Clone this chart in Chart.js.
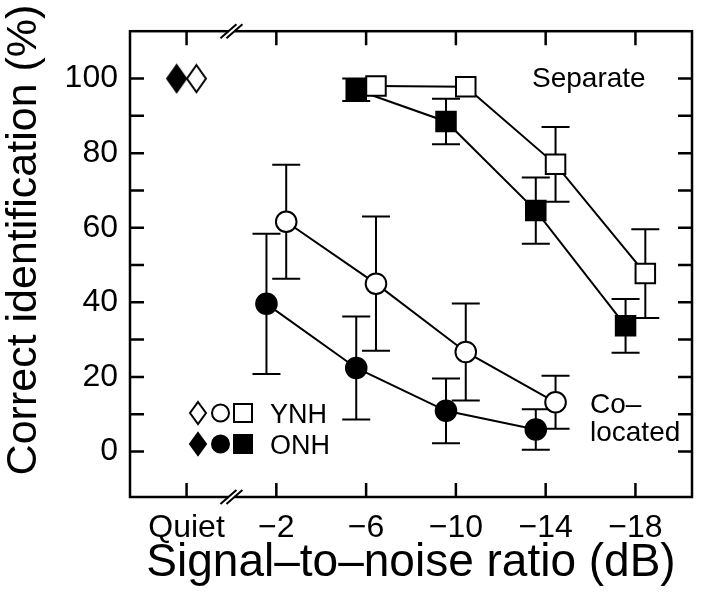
<!DOCTYPE html>
<html>
<head>
<meta charset="utf-8">
<script src="https://cdn.jsdelivr.net/npm/chart.js@4/dist/chart.umd.min.js"></script>
<style>
  html, body { margin: 0; padding: 0; background: #fff; }
  #wrap { width: 708px; height: 593px; }
</style>
</head>
<body>
<div id="wrap"><canvas id="graph" width="708" height="593"></canvas></div>
<script>
// category labels on the x axis (index 0 = Quiet)
var snrLabels = ['Quiet', '\u22122', '\u22126', '\u221210', '\u221214', '\u221218'];
var yTickValues = [0, 10, 20, 30, 40, 50, 60, 70, 80, 90, 100];
var yLabelValues = [0, 20, 40, 60, 80, 100];

// Quiet condition
var quietYNH = [100];
var quietONH = [100];

// Co-located, SNR -2, -6, -10, -14
var colocIdx = [1, 2, 3, 4];
var colocYNH = [61.6, 45.0, 26.7, 13.2];
var colocYNHErr = [15.3, 18.0, 13.0, 7.1];
var colocONH = [39.6, 22.4, 10.9, 5.9];
var colocONHErr = [18.8, 13.8, 8.7, 5.4];

// Separate, SNR -6, -10, -14, -18
var sepIdx = [2, 3, 4, 5];
var sepYNH = [98.0, 97.8, 77.0, 47.7];
var sepYNHErr = [0, 0, 10.0, 11.9];
var sepONH = [97.0, 88.5, 64.6, 33.7];
var sepONHErr = [3.0, 6.1, 8.9, 7.2];

var dodge = 0.11; // ONH left, YNH right
var FONT = "'Liberation Sans', Arial, sans-serif";

function pts(idx, vals, shift) {
    var out = [];
    for (var i = 0; i < vals.length; i++) {
        out.push({x: idx[i] + shift, y: vals[i]});
    }
    return out;
}

// diamond marker, taller than wide
function makeDiamond(w, h, filled) {
    var c = document.createElement('canvas');
    c.width = w + 4; c.height = h + 4;
    var g = c.getContext('2d');
    g.beginPath();
    g.moveTo(c.width / 2, 2);
    g.lineTo(c.width - 2, c.height / 2);
    g.lineTo(c.width / 2, c.height - 2);
    g.lineTo(2, c.height / 2);
    g.closePath();
    g.fillStyle = filled ? '#000' : '#fff';
    g.fill();
    g.lineWidth = 2;
    g.strokeStyle = '#000';
    g.stroke();
    return c;
}

function series(label, data, style, filled, radius, line, err) {
    return {
        label: label,
        data: data,
        showLine: line,
        borderColor: '#000',
        borderWidth: 2,
        pointStyle: style,
        pointRadius: radius,
        pointBorderWidth: 2,
        pointBorderColor: '#000',
        pointBackgroundColor: filled ? '#000' : '#fff',
        errors: err
    };
}

var datasets = [
    series('YNH quiet', pts([0], quietYNH, dodge), makeDiamond(19, 27, false), false, 14, false, null),
    series('ONH quiet', pts([0], quietONH, -dodge), makeDiamond(19, 27, true), true, 14, false, null),
    series('YNH co-located', pts(colocIdx, colocYNH, dodge), 'circle', false, 10.3, true, colocYNHErr),
    series('ONH co-located', pts(colocIdx, colocONH, -dodge), 'circle', true, 10.3, true, colocONHErr),
    series('YNH separate', pts(sepIdx, sepYNH, dodge), 'rect', false, 13.8, true, sepYNHErr),
    series('ONH separate', pts(sepIdx, sepONH, -dodge), 'rect', true, 13.8, true, sepONHErr)
];

// error bars, frame, inward ticks, axis breaks, legend and notes
var decor = {
    id: 'decor',
    beforeDatasetsDraw: function(chart) {
        var ctx = chart.ctx, xs = chart.scales.x, ys = chart.scales.y;
        ctx.save();
        ctx.strokeStyle = '#000';
        ctx.lineWidth = 2;
        chart.data.datasets.forEach(function(ds) {
            if (!ds.errors) return;
            ds.data.forEach(function(p, i) {
                var e = ds.errors[i];
                if (!e) return;
                var px = xs.getPixelForValue(p.x);
                var top = ys.getPixelForValue(p.y + e);
                var bot = ys.getPixelForValue(p.y - e);
                ctx.beginPath();
                ctx.moveTo(px, top); ctx.lineTo(px, bot);
                ctx.moveTo(px - 14, top); ctx.lineTo(px + 14, top);
                ctx.moveTo(px - 14, bot); ctx.lineTo(px + 14, bot);
                ctx.stroke();
            });
        });
        ctx.restore();
    },
    afterDraw: function(chart) {
        var ctx = chart.ctx, a = chart.chartArea, xs = chart.scales.x, ys = chart.scales.y;
        ctx.save();
        ctx.strokeStyle = '#000';
        ctx.lineWidth = 2.5;
        ctx.strokeRect(a.left, a.top, a.right - a.left, a.bottom - a.top);

        var tl = 14;
        ctx.beginPath();
        yTickValues.forEach(function(v) {
            var py = ys.getPixelForValue(v);
            ctx.moveTo(a.left, py); ctx.lineTo(a.left + tl, py);
            ctx.moveTo(a.right, py); ctx.lineTo(a.right - tl, py);
        });
        for (var i = 0; i < snrLabels.length; i++) {
            var px = xs.getPixelForValue(i);
            ctx.moveTo(px, a.top); ctx.lineTo(px, a.top + tl);
            ctx.moveTo(px, a.bottom); ctx.lineTo(px, a.bottom - tl);
        }
        ctx.stroke();

        // axis break marks between Quiet and -2
        var bx = xs.getPixelForValue(0.5);
        [a.top, a.bottom].forEach(function(by) {
            ctx.fillStyle = '#fff';
            ctx.fillRect(bx - 3, by - 3, 6, 6);
            ctx.lineWidth = 2;
            ctx.beginPath();
            ctx.moveTo(bx - 11, by + 7); ctx.lineTo(bx + 5, by - 7);
            ctx.moveTo(bx - 5, by + 7); ctx.lineTo(bx + 11, by - 7);
            ctx.stroke();
        });

        // y axis title, sits a little above the plot centre
        ctx.save();
        ctx.fillStyle = '#000';
        ctx.font = '43px ' + FONT;
        ctx.textAlign = 'center';
        ctx.textBaseline = 'middle';
        ctx.translate(24, 240);
        ctx.rotate(-Math.PI / 2);
        ctx.fillText('Correct identification (%)', 0, 0);
        ctx.restore();

        // legend
        function diamond(cx, cy, w, h, filled) {
            ctx.beginPath();
            ctx.moveTo(cx, cy - h / 2); ctx.lineTo(cx + w / 2, cy);
            ctx.lineTo(cx, cy + h / 2); ctx.lineTo(cx - w / 2, cy);
            ctx.closePath();
            ctx.fillStyle = filled ? '#000' : '#fff';
            ctx.fill(); ctx.stroke();
        }
        function circle(cx, cy, r, filled) {
            ctx.beginPath();
            ctx.arc(cx, cy, r, 0, Math.PI * 2);
            ctx.fillStyle = filled ? '#000' : '#fff';
            ctx.fill(); ctx.stroke();
        }
        function square(cx, cy, s, filled) {
            ctx.fillStyle = filled ? '#000' : '#fff';
            ctx.fillRect(cx - s / 2, cy - s / 2, s, s);
            ctx.strokeRect(cx - s / 2, cy - s / 2, s, s);
        }
        ctx.lineWidth = 2;
        [[413, false], [444, true]].forEach(function(row) {
            diamond(198, row[0], 16, 22, row[1]);
            circle(220.5, row[0], 8.5, row[1]);
            square(243, row[0], 18, row[1]);
        });
        ctx.fillStyle = '#000';
        ctx.font = '27px ' + FONT;
        ctx.textBaseline = 'alphabetic';
        ctx.textAlign = 'left';
        ctx.fillText('YNH', 270, 423);
        ctx.fillText('ONH', 270, 454);

        // condition notes
        ctx.font = '28px ' + FONT;
        ctx.fillText('Separate', 532, 87);
        ctx.fillText('Co\u2013', 590, 413);
        ctx.fillText('located', 590, 441);
        ctx.restore();
    }
};

var ctx = document.getElementById('graph').getContext('2d');
var chart = new Chart(ctx, {
    type: 'scatter',
    data: { datasets: datasets },
    options: {
        responsive: false,
        animation: false,
        events: [],
        layout: { padding: { top: 18, right: 5, left: 0, bottom: 0 } },
        plugins: { legend: { display: false }, tooltip: { enabled: false } },
        scales: {
            x: {
                type: 'linear',
                min: -0.63,
                max: 5.63,
                afterBuildTicks: function(scale) {
                    scale.ticks = snrLabels.map(function(l, i) { return {value: i}; });
                },
                afterFit: function(scale) { scale.height = 96; },
                grid: { display: false, drawTicks: false },
                border: { display: false },
                ticks: {
                    padding: 12,
                    color: '#000',
                    font: { family: FONT, size: 32 },
                    maxRotation: 0,
                    autoSkip: false,
                    callback: function(v) { return snrLabels[v]; }
                },
                title: {
                    display: true,
                    text: 'Signal\u2013to\u2013noise ratio (dB)',
                    color: '#000',
                    font: { family: FONT, size: 46 },
                    padding: { top: 0, bottom: 2 }
                }
            },
            y: {
                min: -12.2,
                max: 112.7,
                afterBuildTicks: function(scale) {
                    scale.ticks = yLabelValues.map(function(v) { return {value: v}; });
                },
                afterFit: function(scale) { scale.width = 130; },
                grid: { display: false, drawTicks: false },
                border: { display: false },
                ticks: {
                    padding: 12,
                    color: '#000',
                    font: { family: FONT, size: 32 }
                }
            }
        }
    },
    plugins: [decor]
});
</script>
</body>
</html>
